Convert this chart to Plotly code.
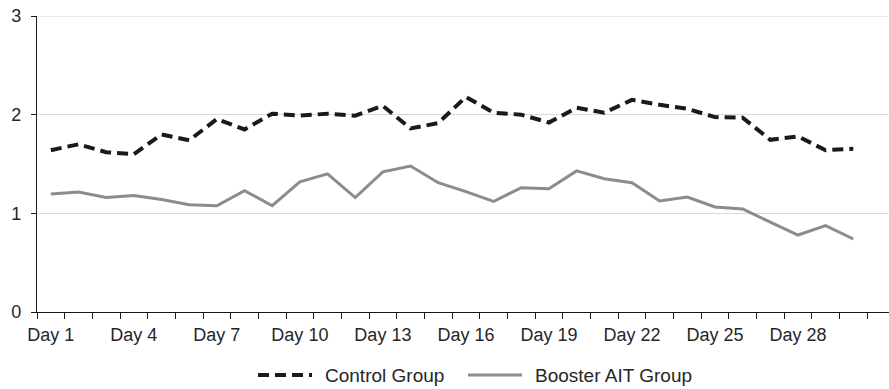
import plotly.graph_objects as go

days = list(range(1, 31))
control_group = [1.64, 1.70, 1.62, 1.60, 1.80, 1.74, 1.955, 1.85, 2.01, 1.99,
                 2.01, 1.99, 2.09, 1.86, 1.915, 2.18, 2.02, 2.00, 1.92, 2.07,
                 2.02, 2.15, 2.10, 2.06, 1.975, 1.97, 1.745, 1.78, 1.64, 1.655]
booster_ait = [1.195, 1.215, 1.16, 1.18, 1.14, 1.087, 1.077, 1.23, 1.077, 1.32,
               1.40, 1.16, 1.42, 1.48, 1.31, 1.22, 1.12, 1.26, 1.25, 1.43,
               1.35, 1.31, 1.125, 1.165, 1.064, 1.044, 0.91, 0.78, 0.875, 0.74]
series_names = ["Control Group", "Booster AIT Group"]
label_days = [1, 4, 7, 10, 13, 16, 19, 22, 25, 28]
label_text = [f"Day {d}" for d in label_days]
y_ticks = [0, 1, 2, 3]

FONT = "Arial, Liberation Sans, sans-serif"
TXT = "#262626"
GRID = "#d9d9d9"
AXIS = "#1a1a1a"
styles = [dict(color="#1a1a1a", width=4, dash="11px,6px"),
          dict(color="#8c8c8c", width=3)]

fig = go.Figure()
for name, vals, st in zip(series_names, [control_group, booster_ait], styles):
    fig.add_trace(go.Scatter(x=days, y=vals, mode="lines", name=name, line=st,
                             showlegend=False))

# top gridline (Plotly drops the gridline sitting on the plot edge)
fig.add_shape(type="line", xref="paper", yref="y", x0=0, x1=1, y0=y_ticks[-1], y1=y_ticks[-1],
              line=dict(color=GRID, width=1), layer="below")

# legend drawn below the plot: swatch + label for each series
legend_y = -0.213
legend_swatch_x = [(0.2594, 0.3228), (0.5059, 0.5692)]
legend_text_x = [0.3357, 0.5822]
for name, st, (x0, x1), tx in zip(series_names, styles, legend_swatch_x, legend_text_x):
    fig.add_shape(type="line", xref="paper", yref="paper", x0=x0, x1=x1,
                  y0=legend_y, y1=legend_y, line=st)
    fig.add_annotation(xref="paper", yref="paper", x=tx, y=legend_y, text=name,
                       showarrow=False, xanchor="left", yanchor="middle",
                       font=dict(family=FONT, size=19, color=TXT))

fig.update_layout(
    width=889, height=389,
    margin=dict(l=37, r=0, t=16, b=77, autoexpand=False),
    paper_bgcolor="white", plot_bgcolor="white",
    font=dict(family=FONT, size=18, color=TXT),
    showlegend=False,
    xaxis=dict(
        range=[0.5, 31.29], tickmode="array", tickvals=label_days, ticktext=label_text,
        ticks="", showgrid=False, zeroline=False, automargin=False,
        showline=True, linecolor=AXIS, linewidth=1.2,
        minor=dict(tickmode="array", tickvals=[i + 0.5 for i in range(0, 32)],
                   ticks="outside", ticklen=6, tickcolor=AXIS, tickwidth=1.2,
                   showgrid=False),
        ticklabelstandoff=6, ticklabeloverflow="allow",
        tickfont=dict(size=18, color=TXT),
    ),
    yaxis=dict(
        range=[0, 3], tickmode="array", tickvals=y_ticks, automargin=False,
        ticks="outside", ticklen=5, tickcolor=AXIS, tickwidth=1.2,
        showgrid=True, gridcolor=GRID, gridwidth=1,
        zeroline=False, showline=True, linecolor=AXIS, linewidth=1.2,
        ticklabelstandoff=6, ticklabeloverflow="allow",
        tickfont=dict(size=18, color=TXT),
    ),
)

# remove the page's default 8px body margin so the figure fills the window exactly
fig.write_html("out.html", config={"displayModeBar": False},
               post_script="document.body.style.margin='0px';")
